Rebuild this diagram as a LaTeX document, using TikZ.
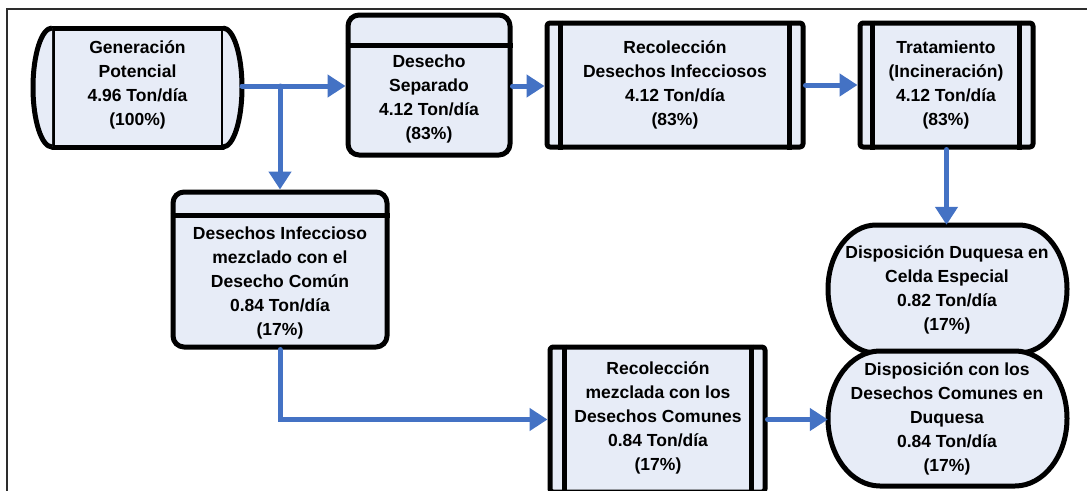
\documentclass[tikz,border=0pt]{standalone}
\usepackage{fontspec}
\setmainfont{Liberation Sans}
\usetikzlibrary{arrows.meta}
\definecolor{flowblue}{RGB}{68,114,196}
\definecolor{boxfill}{RGB}{231,236,247}
\definecolor{framegray}{RGB}{45,45,45}

% capsule with elliptic ends: #1 style, #2 left, #3 right, #4 top, #5 bottom, #6 end radius
\newcommand{\pillshape}[6]{%
  \path[#1] ({#2+#6},#4) -- ({#3-#6},#4)
    .. controls ({#3-0.448*#6},#4) and (#3,{#4+0.224*(#5-#4)}) .. (#3,{(#4+#5)/2})
    .. controls (#3,{#5-0.224*(#5-#4)}) and ({#3-0.448*#6},#5) .. ({#3-#6},#5)
    -- ({#2+#6},#5)
    .. controls ({#2+0.448*#6},#5) and (#2,{#5-0.224*(#5-#4)}) .. (#2,{(#4+#5)/2})
    .. controls (#2,{#4+0.224*(#5-#4)}) and ({#2+0.448*#6},#4) .. ({#2+#6},#4) -- cycle;}

% half-ellipse end cap: #1 style, #2 x of flat side, #3 top, #4 bottom, #5 signed bulge
\newcommand{\drumcap}[5]{%
  \path[#1] (#2,#3)
    .. controls ({#2+0.552*#5},#3) and ({#2+#5},{#3+0.224*(#4-#3)}) .. ({#2+#5},{(#3+#4)/2})
    .. controls ({#2+#5},{#4-0.224*(#4-#3)}) and ({#2+0.552*#5},#4) .. (#2,#4);}

\begin{document}
\begin{tikzpicture}[x=1pt,y=-1pt,
  outline/.style={draw=black, fill=boxfill, line width=5pt, inner sep=0pt, line join=round},
  squarebox/.style={outline, rectangle, rounded corners=3pt},
  roundbox/.style={outline, rectangle, rounded corners=11pt},
  ghost/.style={rectangle, inner sep=0pt},
  bar/.style={draw=black, line width=5pt},
  lbl/.style={align=center, font=\fontsize{17.5}{24}\selectfont\bfseries, inner sep=0pt},
  flow/.style={draw=flowblue, line width=5pt, line cap=round,
               -{Triangle[length=18pt,width=22pt]}}]

\useasboundingbox (0,0) rectangle (1087,490);

% page frame (top and left rules)
\draw[framegray, line width=1.6pt] (7,492) -- (7,9) -- (1090,9);

% --- Generacion potencial: drum with curved end caps
\node[squarebox, rounded corners=0pt, minimum width=171pt, minimum height=119pt] (gen) at (137.5,87.5) {};
\drumcap{outline}{52}{28}{147}{-19}
\drumcap{outline}{223}{28}{147}{19}
\node[lbl] (gen-t) at (137.5,85) {Generación\\Potencial\\4.96 Ton/día\\(100\%)};
\coordinate (gen-out) at (242,86);

% --- Desecho separado
\node[roundbox, minimum width=162pt, minimum height=140pt] (sep) at (429,85) {};
\draw[bar] ([yshift=-33pt]sep.north west) -- ([yshift=-33pt]sep.north east);
\node[lbl] (sep-t) at (429,99) {Desecho\\Separado\\4.12 Ton/día\\(83\%)};

% --- Recoleccion desechos infecciosos
\node[squarebox, minimum width=256pt, minimum height=124pt] (rec) at (675,85) {};
\draw[bar] ([xshift=16pt]rec.north west) -- ([xshift=16pt]rec.south west);
\draw[bar] ([xshift=-16pt]rec.north east) -- ([xshift=-16pt]rec.south east);
\node[lbl] (rec-t) at (675,85) {Recolección\\Desechos Infecciosos\\4.12 Ton/día\\(83\%)};

% --- Tratamiento
\node[squarebox, minimum width=173pt, minimum height=124pt] (trat) at (946.5,85) {};
\draw[bar] ([xshift=15pt]trat.north west) -- ([xshift=15pt]trat.south west);
\draw[bar] ([xshift=-16pt]trat.north east) -- ([xshift=-16pt]trat.south east);
\node[lbl] (trat-t) at (946,85) {Tratamiento\\(Incineración)\\4.12 Ton/día\\(83\%)};

% --- Disposicion en celda especial
\node[ghost, minimum width=239pt, minimum height=128pt] (dcel) at (947.5,289) {};
\pillshape{outline}{828}{1067}{225}{353}{48}
\node[lbl] (dcel-t) at (947,290) {Disposición Duquesa en\\Celda Especial\\0.82 Ton/día\\(17\%)};

% --- Disposicion con los desechos comunes
\node[ghost, minimum width=239pt, minimum height=135pt] (dcom) at (947.5,418.5) {};
\pillshape{outline}{828}{1067}{351}{486}{52}
\node[lbl] (dcom-t) at (947,419) {Disposición con los\\Desechos Comunes en\\Duquesa\\0.84 Ton/día\\(17\%)};

% --- Desechos infecciosos mezclados
\node[roundbox, minimum width=214pt, minimum height=155pt] (mez) at (280,269.5) {};
\draw[bar] ([yshift=-26pt]mez.north west) -- ([yshift=-26pt]mez.north east);
\node[lbl] (mez-t) at (280,283) {Desechos Infeccioso\\mezclado con el\\Desecho Común\\0.84 Ton/día\\(17\%)};

% --- Recoleccion mezclada
\node[squarebox, minimum width=215pt, minimum height=145pt] (recm) at (657.5,419.5) {};
\draw[bar] ([xshift=17pt]recm.north west) -- ([xshift=17pt]recm.south west);
\draw[bar] ([xshift=-16pt]recm.north east) -- ([xshift=-16pt]recm.south east);
\node[lbl] (recm-t) at (658,418) {Recolección\\mezclada con los\\Desechos Comunes\\0.84 Ton/día\\(17\%)};

% --- flows
\draw[flow] (gen-out) -- (sep.west |- gen-out);
\draw[flow] (mez.north |- gen-out) -- (mez.north);
\draw[flow] (sep.east |- gen-out) -- (rec.west |- gen-out);
\draw[flow] (rec.east) -- (trat.west);
\draw[flow] (trat.south) -- (trat.south |- dcel.north);
\draw[flow] (mez.south) -- (mez.south |- recm.west) -- (recm.west);
\draw[flow] (recm.east) -- (dcom.west |- recm.east);

\end{tikzpicture}
\end{document}
